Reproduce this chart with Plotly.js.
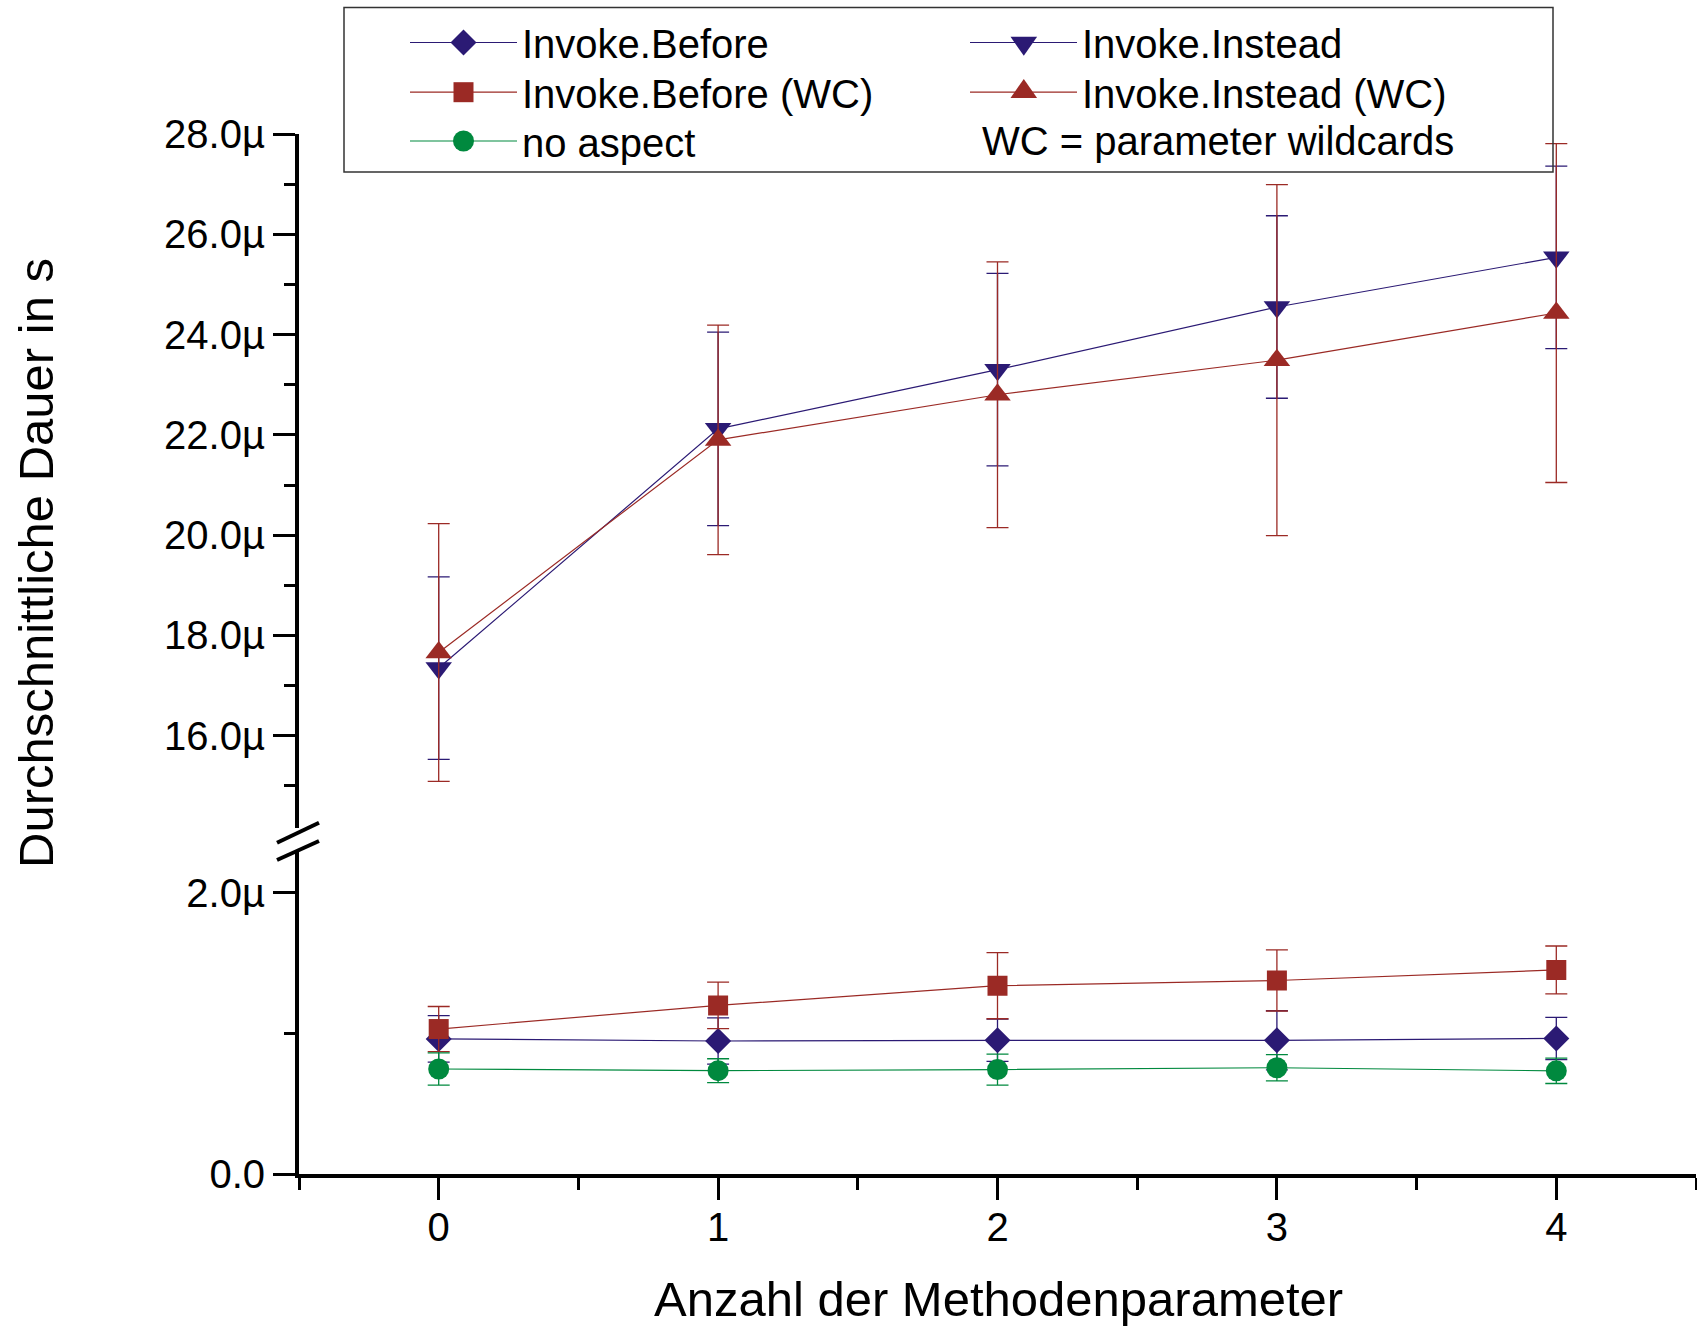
<!DOCTYPE html>
<html>
<head>
<meta charset="utf-8">
<script src="https://cdn.plot.ly/plotly-3.0.1.min.js"></script>
<style>html,body{margin:0;padding:0;background:#fff;}</style>
</head>
<body>
<div id="chart" style="width:1697px;height:1328px;"></div>
<script>
// ---- data ----
const xParams = [0, 1, 2, 3, 4];
const xTickLabels = ["0", "1", "2", "3", "4"];

const beforeY      = [0.960, 0.945, 0.950, 0.950, 0.963];
const beforeErr    = [0.165, 0.165, 0.150, 0.210, 0.150];
const beforeWcY    = [1.030, 1.198, 1.338, 1.375, 1.450];
const beforeWcErr  = [0.160, 0.165, 0.235, 0.217, 0.170];
const noAspectY    = [0.746, 0.734, 0.742, 0.755, 0.733];
const noAspectErr  = [0.115, 0.085, 0.110, 0.093, 0.090];

const insteadY     = [17.35, 22.12, 23.30, 24.55, 25.54];
const insteadErr   = [1.82, 1.93, 1.92, 1.82, 1.82];
const insteadWcY   = [17.66, 21.90, 22.80, 23.49, 24.43];
const insteadWcErr = [2.57, 2.29, 2.65, 3.50, 3.38];

const upperTickVals = [16, 18, 20, 22, 24, 26, 28];
const upperTickText = ["16.0µ", "18.0µ", "20.0µ", "22.0µ", "24.0µ", "26.0µ", "28.0µ"];
const lowerTickVals = [0, 2];
const lowerTickText = ["0.0", "2.0µ"];

const seriesNames = ["Invoke.Before", "Invoke.Instead", "Invoke.Before (WC)", "Invoke.Instead (WC)", "no aspect"];
const noteText = "WC = parameter wildcards";
const xTitle = "Anzahl der Methodenparameter";
const yTitle = "Durchschnittliche Dauer in s";

// ---- styling ----
const FONT = "Liberation Sans, Arial, Helvetica, sans-serif";
const FS = 40;
const NAVY = "#2b1a74";
const RED = "#9b2a25";
const GREEN = "#00893e";
const W = 1697, H = 1328;
const M = {l: 299, r: 1, t: 134, b: 154};
const pw = W - M.l - M.r, ph = H - M.t - M.b;
const px = v => (v - M.l) / pw;
const py = v => (H - M.b - v) / ph;

function tr(name, y, err, color, symbol, size, yaxis, legend) {
  return {
    type: "scatter", mode: "lines+markers", name: name,
    x: xParams, y: y, xaxis: "x", yaxis: yaxis, legend: legend,
    line: {color: color, width: 1.2},
    marker: {color: color, symbol: symbol, size: size, line: {width: 0}},
    error_y: {type: "data", array: err, visible: true, color: color, thickness: 1.3, width: 11}
  };
}

const data = [
  tr(seriesNames[0], beforeY, beforeErr, NAVY, "diamond", 20, "y2", "legend"),
  tr(seriesNames[1], insteadY, insteadErr, NAVY, "triangle-down", 23, "y", "legend2"),
  tr(seriesNames[2], beforeWcY, beforeWcErr, RED, "square", 20, "y2", "legend3"),
  tr(seriesNames[3], insteadWcY, insteadWcErr, RED, "triangle-up", 23, "y", "legend4"),
  tr(seriesNames[4], noAspectY, noAspectErr, GREEN, "circle", 21, "y2", "legend5")
];

const rowPx = [42.5, 92.2, 141];
const col1 = px(405), col2 = px(965);
const rows = rowPx.map(py);
function leg(x, y) {
  return {x: x, y: y, xanchor: "left", yanchor: "middle", orientation: "v",
    bgcolor: "rgba(0,0,0,0)", borderwidth: 0, itemwidth: 107,
    font: {family: FONT, size: FS, color: "#000"}};
}

// larger legend symbols (plotly caps legend markers at 16px)
const symC1 = px(463.5), symC2 = px(1023.8);
function symShape(xa, ya, path, color) {
  return {type: "path", xref: "paper", yref: "paper", xsizemode: "pixel", ysizemode: "pixel",
    xanchor: xa, yanchor: ya, path: path, fillcolor: color, line: {width: 0}, layer: "above"};
}
const legendSymbols = [
  symShape(symC1, rows[0], "M0,13 L13,0 L0,-13 L-13,0 Z", NAVY),
  symShape(symC2, rows[0], "M-13.3,5.75 L13.3,5.75 L0,-13.3 Z", NAVY),
  symShape(symC1, rows[1], "M-10,-10 L10,-10 L10,10 L-10,10 Z", RED),
  symShape(symC2, rows[1], "M-13.3,-5.75 L13.3,-5.75 L0,13.3 Z", RED),
  {type: "circle", xref: "paper", yref: "paper", xsizemode: "pixel", ysizemode: "pixel",
   xanchor: symC1, yanchor: rows[2], x0: -10.5, x1: 10.5, y0: -10.5, y1: 10.5,
   fillcolor: GREEN, line: {width: 0}, layer: "above"}
];

const axisCommon = {
  showline: true, linecolor: "#000", linewidth: 4, mirror: false,
  ticks: "outside", ticklen: 22, tickwidth: 3, tickcolor: "#000",
  showgrid: false, zeroline: false, fixedrange: true,
  tickfont: {family: FONT, size: FS, color: "#000"}
};

const layout = {
  width: W, height: H, margin: M,
  paper_bgcolor: "#fff", plot_bgcolor: "#fff",
  font: {family: FONT, color: "#000"},
  showlegend: true,
  xaxis: Object.assign({}, axisCommon, {
    anchor: "y2", range: [-0.5, 4.5], tickmode: "array",
    tickvals: xParams, ticktext: xTickLabels, ticklabelstandoff: -7,
    minor: {tickvals: [-0.5, 0.5, 1.5, 2.5, 3.5, 4.5], ticks: "outside", ticklen: 12, tickwidth: 3, tickcolor: "#000"}
  }),
  yaxis: Object.assign({}, axisCommon, {
    anchor: "x", domain: [py(828), 1], range: [14.16, 28], tickmode: "array",
    tickvals: upperTickVals, ticktext: upperTickText,
    minor: {tickvals: [15, 17, 19, 21, 23, 25, 27], ticks: "outside", ticklen: 11, tickwidth: 3, tickcolor: "#000"}
  }),
  yaxis2: Object.assign({}, axisCommon, {
    anchor: "x", domain: [0, py(851.7)], range: [0, 2.29], tickmode: "array",
    tickvals: lowerTickVals, ticktext: lowerTickText,
    minor: {tickvals: [1], ticks: "outside", ticklen: 11, tickwidth: 3, tickcolor: "#000"}
  }),
  legend: leg(col1, rows[0]),
  legend2: leg(col2, rows[0]),
  legend3: leg(col1, rows[1]),
  legend4: leg(col2, rows[1]),
  legend5: leg(col1, rows[2]),
  shapes: [
    {type: "rect", xref: "paper", yref: "paper", x0: px(344), x1: px(1553), y0: py(172), y1: py(7.6),
     line: {color: "#333", width: 1.5}, fillcolor: "rgba(0,0,0,0)"},
    {type: "line", xref: "paper", yref: "paper", x0: px(277), y0: py(842.7), x1: px(319), y1: py(822.7),
     line: {color: "#000", width: 4}},
    {type: "line", xref: "paper", yref: "paper", x0: px(277), y0: py(860), x1: px(319), y1: py(841),
     line: {color: "#000", width: 4}}
  ].concat(legendSymbols),
  annotations: [
    {text: noteText, xref: "paper", yref: "paper", x: px(980), y: rows[2], xanchor: "left", yanchor: "middle",
     showarrow: false, font: {family: FONT, size: FS, color: "#000"}},
    {text: xTitle, xref: "paper", yref: "paper", x: px(998), y: py(1299), xanchor: "center", yanchor: "middle",
     showarrow: false, font: {family: FONT, size: 49, color: "#000"}},
    {text: yTitle, xref: "paper", yref: "paper", x: px(36), y: py(563), xanchor: "center", yanchor: "middle",
     textangle: -90, showarrow: false, font: {family: FONT, size: 49, color: "#000"}}
  ]
};

Plotly.newPlot("chart", data, layout, {displayModeBar: false, staticPlot: true});
</script>
</body>
</html>
